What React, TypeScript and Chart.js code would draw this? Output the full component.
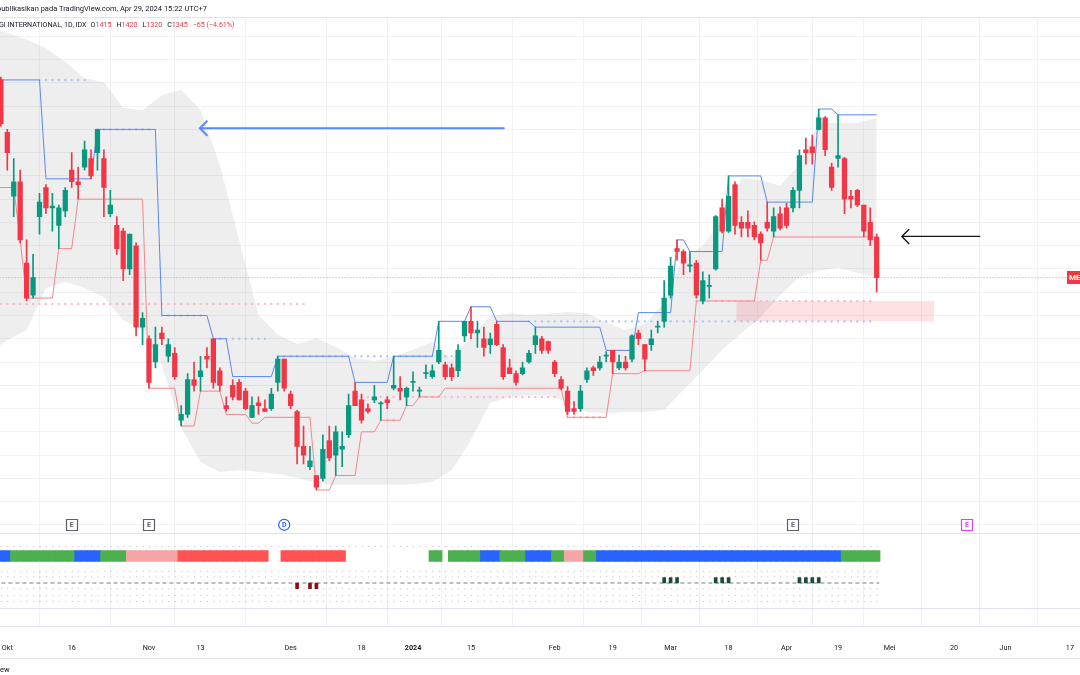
import React, { useEffect, useRef } from 'react';
import { Chart, registerables } from 'chart.js';

Chart.register(...registerables);

// ---------------- data ----------------
// bar index 0 = 2 Okt 2023 (first bar shown at index -1 = 29 Sep 2023), last bar 135 = 29 Apr 2024
const FIRST_BAR = -1;

const opens = [
  1685, 1595, 1485, 1510, 1370, 1315, 1450, 1500, 1465, 1435, 1460,
  1530, 1510, 1535, 1550, 1560, 1550, 1455, 1435, 1425, 1360,
  1400, 1260, 1240, 1200, 1250, 1210, 1215, 1100, 1110, 1170,
  1175, 1210, 1240, 1185, 1125, 1160, 1165, 1150, 1105, 1130,
  1120, 1120, 1165, 1205, 1145, 1115, 1055, 1020, 1005, 1000,
  1065, 1040, 1050, 1075, 1150, 1135, 1120, 1135, 1128, 1135,
  1155, 1155, 1140, 1165, 1150, 1180, 1175, 1200, 1195, 1190,
  1185, 1245, 1270, 1250, 1240, 1230, 1265, 1225, 1190, 1180,
  1180, 1200, 1230, 1240, 1235, 1200, 1170, 1150, 1120, 1120,
  1170, 1190, 1190, 1210, 1220, 1190, 1200, 1205, 1250, 1230,
  1230, 1260, 1270, 1315, 1395, 1390, 1365, 1370, 1305, 1330,
  1360, 1465, 1425, 1505, 1440, 1440, 1435, 1420, 1440, 1425,
  1455, 1465, 1465, 1495, 1565, 1570, 1600, 1620, 1535, 1550,
  1550, 1485, 1495, 1470, 1440, 1415,
];
const highs = [
  1690, 1600, 1550, 1530, 1410, 1385, 1490, 1505, 1490, 1470, 1500,
  1560, 1535, 1580, 1565, 1600, 1565, 1495, 1450, 1430, 1420,
  1405, 1285, 1245, 1260, 1260, 1240, 1225, 1125, 1180, 1200,
  1210, 1225, 1240, 1190, 1140, 1170, 1170, 1155, 1140, 1140,
  1135, 1155, 1210, 1205, 1150, 1117, 1090, 1055, 1005, 1075,
  1090, 1090, 1080, 1145, 1165, 1145, 1128, 1160, 1132, 1140,
  1210, 1175, 1157, 1183, 1157, 1195, 1195, 1270, 1200, 1197,
  1230, 1270, 1295, 1270, 1260, 1250, 1270, 1230, 1205, 1185,
  1200, 1220, 1260, 1244, 1236, 1203, 1175, 1158, 1132, 1160,
  1190, 1193, 1210, 1218, 1220, 1212, 1210, 1247, 1255, 1230,
  1255, 1270, 1340, 1380, 1410, 1393, 1390, 1375, 1355, 1350,
  1452, 1480, 1520, 1510, 1450, 1460, 1441, 1424, 1475, 1465,
  1467, 1473, 1500, 1565, 1585, 1590, 1635, 1622, 1542, 1625,
  1552, 1495, 1497, 1470, 1465, 1420,
];
const lows = [
  1605, 1530, 1450, 1405, 1305, 1310, 1420, 1455, 1425, 1395, 1450,
  1500, 1480, 1530, 1515, 1530, 1450, 1450, 1385, 1340, 1350,
  1245, 1230, 1155, 1190, 1230, 1200, 1170, 1090, 1105, 1150,
  1150, 1190, 1155, 1150, 1115, 1135, 1135, 1118, 1105, 1110,
  1115, 1117, 1150, 1150, 1120, 1025, 1025, 1015, 980, 995,
  1030, 1005, 1020, 1070, 1125, 1095, 1112, 1130, 1100, 1120,
  1152, 1135, 1125, 1150, 1140, 1172, 1172, 1197, 1170, 1168,
  1175, 1235, 1240, 1225, 1210, 1215, 1228, 1170, 1180, 1160,
  1178, 1198, 1215, 1215, 1215, 1175, 1152, 1110, 1110, 1115,
  1165, 1177, 1186, 1200, 1180, 1187, 1186, 1200, 1230, 1185,
  1220, 1250, 1260, 1310, 1375, 1350, 1355, 1310, 1300, 1310,
  1358, 1422, 1423, 1420, 1415, 1415, 1410, 1375, 1425, 1415,
  1427, 1430, 1458, 1465, 1540, 1540, 1599, 1555, 1495, 1535,
  1455, 1465, 1467, 1415, 1400, 1320,
];
const closes = [
  1610, 1560, 1510, 1410, 1310, 1345, 1475, 1465, 1468, 1465, 1495,
  1510, 1505, 1565, 1520, 1600, 1500, 1470, 1395, 1360, 1420,
  1260, 1275, 1165, 1230, 1240, 1230, 1175, 1110, 1170, 1160,
  1185, 1205, 1165, 1160, 1120, 1140, 1135, 1120, 1125, 1125,
  1115, 1145, 1205, 1155, 1125, 1055, 1040, 1030, 985, 1050,
  1035, 1080, 1055, 1125, 1125, 1100, 1115, 1140, 1130, 1130,
  1160, 1150, 1155, 1167, 1150, 1182, 1185, 1220, 1175, 1175,
  1220, 1270, 1250, 1255, 1225, 1240, 1230, 1175, 1180, 1165,
  1190, 1215, 1245, 1220, 1220, 1180, 1155, 1115, 1115, 1150,
  1185, 1185, 1200, 1212, 1200, 1200, 1190, 1245, 1240, 1205,
  1240, 1262, 1310, 1365, 1390, 1370, 1367, 1315, 1340, 1332,
  1450, 1425, 1485, 1435, 1430, 1430, 1415, 1405, 1430, 1450,
  1430, 1435, 1495, 1555, 1560, 1560, 1620, 1565, 1500, 1555,
  1480, 1480, 1470, 1425, 1410, 1345,
];

// time axis: bar index -> label
const tickIdx = [0, 10, 22, 30, 44, 55, 63, 72, 85, 94, 103, 112, 121, 129, 137, 147, 155, 165];
const tickText = ['Okt', '16', 'Nov', '13', 'Des', '18', '2024', '15', 'Feb', '19', 'Mar', '18', 'Apr', '19', 'Mei', '20', 'Jun', '17'];

// upper (blue) and lower (red) step lines: [bar index, price]
const upperLine = [
  [-2, 1685], [5, 1685], [6, 1515], [13, 1515], [14, 1600], [23, 1600], [24, 1280], [31, 1280],
  [32, 1240], [34, 1240], [35, 1175], [41, 1175], [42, 1210], [53, 1210], [54, 1165], [59, 1165],
  [60, 1210], [66, 1210], [67, 1270], [71, 1270], [72, 1295], [75, 1295], [76, 1270], [81, 1270],
  [82, 1260], [92, 1260], [93, 1220], [97, 1220], [98, 1285], [103, 1285], [104, 1410], [105, 1410],
  [106, 1390], [111, 1390], [112, 1520], [117, 1520], [118, 1475], [125, 1475], [126, 1635], [128, 1635],
  [129, 1625], [135, 1625],
];
const lowerLine = [
  [-2, 1500], [1, 1500], [2, 1410], [3, 1310], [7, 1310], [8, 1395], [10, 1395], [11, 1480], [21, 1480],
  [22, 1155], [26, 1155], [27, 1090], [29, 1090], [30, 1150], [33, 1150], [34, 1110], [37, 1110],
  [38, 1095], [39, 1095], [40, 1105], [47, 1105], [48, 980], [50, 980], [51, 1005], [54, 1005],
  [55, 1080], [57, 1080], [58, 1100], [61, 1100], [62, 1125], [63, 1125], [64, 1140], [67, 1140],
  [68, 1155], [86, 1155], [87, 1105], [93, 1105], [94, 1180], [98, 1180], [99, 1185], [106, 1185],
  [107, 1305], [116, 1305], [117, 1375], [118, 1375], [119, 1415], [135, 1415],
];

// grey envelope
const bandIdx = [-2, 0, 3, 6, 9, 12, 15, 18, 21, 24, 27, 30, 33, 36, 39, 42, 45, 48, 51, 54, 57, 60, 63, 66, 69, 72, 75, 78, 81, 84, 87, 90, 93, 96, 99, 102, 105, 108, 111, 114, 117, 120, 123, 126, 129, 132, 135];
const bandUpper = [1771, 1766, 1754, 1740, 1716, 1688, 1681, 1637, 1633, 1659, 1668, 1633, 1539, 1410, 1281, 1247, 1231, 1241, 1226, 1207, 1202, 1209, 1221, 1235, 1204, 1243, 1279, 1284, 1281, 1283, 1286, 1284, 1269, 1255, 1265, 1302, 1381, 1400, 1444, 1516, 1513, 1503, 1539, 1611, 1611, 1611, 1620];
const bandLower = [1221, 1238, 1255, 1327, 1338, 1327, 1312, 1272, 1255, 1195, 1087, 1028, 1011, 1014, 1011, 1008, 1001, 992, 989, 989, 989, 989, 990, 994, 1014, 1066, 1130, 1140, 1143, 1143, 1131, 1114, 1112, 1114, 1114, 1118, 1152, 1186, 1221, 1250, 1277, 1315, 1346, 1357, 1362, 1353, 1346];

// dotted levels: [price, from bar, to bar]
const blueDots = [[1685, 5, 13], [1600, 14, 23], [1280, 24, 31], [1240, 32, 41], [1210, 42, 71], [1270, 81, 135]];
const pinkDots = [[1300, -2, 47], [1140, 54, 86], [1100, 58, 61], [1105, 87, 93], [1305, 107, 135]];

// drawn zone rectangle and arrows
const zoneBars = [113.2, 143.9];
const zonePrices = [1305, 1270];
const arrows = [
  { from: 77.1, to: 29.9, price: 1602, color: '#5a8af5', width: 2 },
  { from: 151, to: 138.9, price: 1416, color: '#131722', width: 1.4 },
];

// events under the price pane
const events = [
  { bar: 10, kind: 'E', color: '#5d606b' },
  { bar: 22, kind: 'E', color: '#5d606b' },
  { bar: 43, kind: 'D', color: '#2962ff' },
  { bar: 122, kind: 'E', color: '#5d606b' },
  { bar: 149, kind: 'E', color: '#e040fb' },
];

// indicator pane: trend strip runs [from bar, to bar, state]
const stripRuns = [
  [-1, 0, 'B'], [1, 10, 'G'], [11, 14, 'B'], [15, 18, 'G'], [19, 26, 'P'], [27, 40, 'R'],
  [43, 52, 'R'], [66, 67, 'G'], [69, 73, 'G'], [74, 76, 'B'], [77, 80, 'G'], [81, 84, 'B'],
  [85, 86, 'G'], [87, 89, 'P'], [90, 91, 'G'], [92, 129, 'B'], [130, 135, 'G'],
];
const histUpBars = [102, 103, 104, 110, 111, 112, 123, 124, 125, 126];
const histDownBars = [45, 47, 48];
const indicatorRows = [4.41, 1.41, 0.75, -0.7, -1.5, -2.25];

const LAST_PRICE = 1345;
const SYMBOL_TAG = 'MEDC';

// ---------------- styling ----------------
const UP = '#089981';
const DOWN = '#f23645';
const GRID = '#f0f2f5';
const STRIP_COLORS: Record<string, string> = { B: '#2962ff', G: '#4caf50', P: '#f4a6a6', R: '#ff5252' };
const X_MIN = -1.134;
const X_MAX = 166.57;

const decorations = {
  id: 'decorations',
  afterDatasetsDraw(chart: any) {
    const { ctx, chartArea, scales } = chart;
    const x = scales.x, y = scales.y, y2 = scales.y2, y3 = scales.y3;
    ctx.save();
    ctx.strokeStyle = '#e0e3eb';
    ctx.lineWidth = 1;
    for (const yy of [chartArea.top, y.bottom, y2.bottom, y3.bottom, x.bottom]) {
      const py = Math.round(yy) + 0.5;
      ctx.beginPath();
      ctx.moveTo(0, py);
      ctx.lineTo(chart.width, py);
      ctx.stroke();
    }
    for (const a of arrows) {
      const x1 = x.getPixelForValue(a.from);
      const x2 = x.getPixelForValue(a.to);
      const py = y.getPixelForValue(a.price);
      ctx.strokeStyle = a.color;
      ctx.lineWidth = a.width;
      ctx.lineCap = 'round';
      ctx.beginPath();
      ctx.moveTo(x1, py);
      ctx.lineTo(x2, py);
      ctx.moveTo(x2 + 7, py - 7);
      ctx.lineTo(x2, py);
      ctx.lineTo(x2 + 7, py + 7);
      ctx.stroke();
    }
    const ey = y.bottom - 8.6;
    ctx.font = 'bold 7px Roboto';
    ctx.textAlign = 'center';
    ctx.textBaseline = 'middle';
    for (const e of events) {
      const ex = x.getPixelForValue(e.bar);
      ctx.lineWidth = 1.2;
      ctx.strokeStyle = e.color;
      ctx.fillStyle = '#ffffff';
      if (e.kind === 'D') {
        ctx.beginPath();
        ctx.arc(ex, ey, 5.5, 0, Math.PI * 2);
        ctx.fill();
        ctx.stroke();
      } else {
        ctx.beginPath();
        ctx.rect(Math.round(ex - 5.5) + 0.5, Math.round(ey - 5.5) + 0.5, 11, 11);
        ctx.fill();
        ctx.stroke();
      }
      ctx.fillStyle = e.color;
      ctx.fillText(e.kind, ex, ey + 0.5);
    }
    const py = y.getPixelForValue(LAST_PRICE);
    ctx.fillStyle = DOWN;
    ctx.fillRect(1067, Math.round(py - 6.5), 40, 13);
    ctx.fillStyle = '#ffffff';
    ctx.font = 'bold 8px Roboto';
    ctx.textAlign = 'left';
    ctx.fillText(SYMBOL_TAG, 1069, py + 0.5);
    ctx.restore();
  },
};

export default function App() {
  const ref = useRef<HTMLCanvasElement | null>(null);

  useEffect(() => {
    if (!ref.current) return;
    const bars = opens.map((o, k) => ({ i: FIRST_BAR + k, o, h: highs[k], l: lows[k], c: closes[k] }));
    const barColors = bars.map((b) => (b.c >= b.o ? UP : DOWN));

    const stripData: any[] = [];
    const stripCol: string[] = [];
    for (const [a, b, s] of stripRuns as any[]) {
      for (let i = a; i <= b; i++) {
        stripData.push({ x: i, y: [2.62, 3.92] });
        stripCol.push(STRIP_COLORS[s]);
      }
    }

    const seg = (p: number, a: number, b: number) => [{ x: a, y: p }, { x: b, y: p }];
    const dotSet = (list: number[][], color: string) =>
      list.map(([p, a, b]) => ({
        type: 'line',
        data: seg(p, a, b),
        borderColor: color,
        borderWidth: 2.4,
        borderDash: [0, 6.44],
        borderCapStyle: 'round',
        yAxisID: 'y',
        order: 4,
      }));

    const datasets: any[] = [
      {
        type: 'bar', data: bars.map((b) => ({ x: b.i, y: [b.o, b.c] })), backgroundColor: barColors,
        barThickness: 4.6, grouped: false, minBarLength: 1, yAxisID: 'y', order: 1,
      },
      {
        type: 'bar', data: bars.map((b) => ({ x: b.i, y: [b.l, b.h] })), backgroundColor: barColors,
        barThickness: 1, grouped: false, yAxisID: 'y', order: 2,
      },
      { type: 'line', data: upperLine.map(([a, p]) => ({ x: a, y: p })), borderColor: '#5a87f2', borderWidth: 1, yAxisID: 'y', order: 3 },
      { type: 'line', data: lowerLine.map(([a, p]) => ({ x: a, y: p })), borderColor: '#f5868b', borderWidth: 1, yAxisID: 'y', order: 3 },
      ...dotSet(blueDots, '#aec4f7'),
      ...dotSet(pinkDots, '#f9bcc0'),
      {
        type: 'line', data: seg(LAST_PRICE, X_MIN - 1, X_MAX + 1), borderColor: 'rgba(242,54,69,0.6)', borderWidth: 1,
        borderDash: [1, 2], yAxisID: 'y', order: 5,
      },
      {
        type: 'line', data: seg(zonePrices[0], zoneBars[0], zoneBars[1]), borderColor: 'transparent', borderWidth: 0,
        fill: '+1', backgroundColor: 'rgba(242,54,69,0.15)', yAxisID: 'y', order: 6,
      },
      { type: 'line', data: seg(zonePrices[1], zoneBars[0], zoneBars[1]), borderColor: 'transparent', borderWidth: 0, yAxisID: 'y', order: 6 },
      {
        type: 'line', data: bandIdx.map((a, k) => ({ x: a, y: bandUpper[k] })), borderColor: 'transparent', borderWidth: 0,
        fill: '+1', backgroundColor: 'rgba(120,123,134,0.13)', yAxisID: 'y', order: 7,
      },
      { type: 'line', data: bandIdx.map((a, k) => ({ x: a, y: bandLower[k] })), borderColor: 'transparent', borderWidth: 0, yAxisID: 'y', order: 7 },
      { type: 'bar', data: stripData, backgroundColor: stripCol, barThickness: 6.7, grouped: false, yAxisID: 'y2', order: 1 },
      { type: 'bar', data: histUpBars.map((i) => ({ x: i, y: [0, 0.66] })), backgroundColor: '#1b4d33', barThickness: 3, grouped: false, yAxisID: 'y2', order: 1 },
      { type: 'bar', data: histDownBars.map((i) => ({ x: i, y: [0, -0.7] })), backgroundColor: '#8b1010', barThickness: 3, grouped: false, yAxisID: 'y2', order: 1 },
      ...indicatorRows.map((v) => ({
        type: 'line', data: seg(v, -2, 135.4), borderColor: '#b8bbc3', borderWidth: 1, borderDash: [1, 5.44], yAxisID: 'y2', order: 3,
      })),
      { type: 'line', data: seg(0, -2, 135.4), borderColor: '#787b86', borderWidth: 1, borderDash: [4, 3], yAxisID: 'y2', order: 2 },
    ];

    const hidden = { display: false };
    const zeroWidth = (s: any) => { s.width = 0; s.paddingTop = 0; s.paddingBottom = 0; };
    const chart = new Chart(ref.current, {
      type: 'line',
      data: { datasets },
      options: {
        animation: false,
        responsive: false,
        devicePixelRatio: 1,
        layout: { padding: { top: 17, bottom: 17, left: 0, right: 0 } },
        elements: { point: { radius: 0 }, line: { tension: 0 } },
        plugins: { legend: hidden, tooltip: { enabled: false } },
        scales: {
          x: {
            type: 'linear', min: X_MIN, max: X_MAX, offset: false, position: 'bottom',
            afterBuildTicks: (s: any) => { s.ticks = tickIdx.map((v) => ({ value: v })); },
            afterFit: (s: any) => { s.height = 32; s.paddingLeft = 0; s.paddingRight = 0; },
            ticks: {
              autoSkip: false, maxRotation: 0, padding: 18, color: '#131722',
              callback: (v: any) => { const k = tickIdx.indexOf(v); return k >= 0 ? tickText[k] : ''; },
              font: (c: any) => ({ family: 'Roboto', size: 7.2, weight: c.tick && tickText[tickIdx.indexOf(c.tick.value)] === '2024' ? 'bold' : 'normal' }),
            },
            grid: { color: GRID, drawTicks: false },
            border: hidden,
          },
          y: {
            type: 'linear', position: 'right', stack: 'panes', stackWeight: 516.4, min: 905.4, max: 1793.2,
            afterBuildTicks: (s: any) => { const t = []; for (let v = 920; v <= 1760; v += 40) t.push({ value: v }); s.ticks = t; },
            afterFit: zeroWidth,
            ticks: { display: false }, grid: { color: GRID, drawTicks: false }, border: hidden,
          },
          y2: {
            type: 'linear', position: 'right', stack: 'panes', stackWeight: 74.4, min: -3, max: 6,
            afterFit: zeroWidth,
            ticks: { display: false }, grid: hidden, border: hidden,
          },
          y3: {
            type: 'linear', position: 'right', stack: 'panes', stackWeight: 18.2, min: 0, max: 1,
            afterFit: zeroWidth,
            ticks: { display: false }, grid: hidden, border: hidden,
          },
        },
      } as any,
      plugins: [decorations],
    });
    return () => chart.destroy();
  }, []);

  const base: React.CSSProperties = { position: 'absolute', whiteSpace: 'nowrap', fontFamily: 'Roboto, sans-serif', color: '#131722' };
  const red: React.CSSProperties = { color: DOWN };
  return (
    <div style={{ position: 'fixed', left: 0, top: 0, width: 1080, height: 675, background: '#ffffff', overflow: 'hidden' }}>
      <canvas ref={ref} width={1080} height={675} style={{ position: 'absolute', left: 0, top: 0, width: 1080, height: 675 }} />
      <div style={{ ...base, left: -3, top: 4, fontSize: 7.5, lineHeight: '10px' }}>publikasikan pada TradingView.com, Apr 29, 2024 15:22 UTC+7</div>
      <div style={{ ...base, left: -1, top: 20, fontSize: 7.1, lineHeight: '10px' }}>
        GI INTERNATIONAL, 1D, IDX
        <span style={{ marginLeft: 4 }}>O<span style={red}>1415</span></span>
        <span style={{ marginLeft: 5 }}>H<span style={red}>1420</span></span>
        <span style={{ marginLeft: 5 }}>L<span style={red}>1320</span></span>
        <span style={{ marginLeft: 5 }}>C<span style={red}>1345</span></span>
        <span style={{ ...red, marginLeft: 5 }}>−65 (−4.61%)</span>
      </div>
      <div style={{ ...base, left: 0, top: 665, fontSize: 7.5, lineHeight: '10px' }}>ew</div>
    </div>
  );
}
